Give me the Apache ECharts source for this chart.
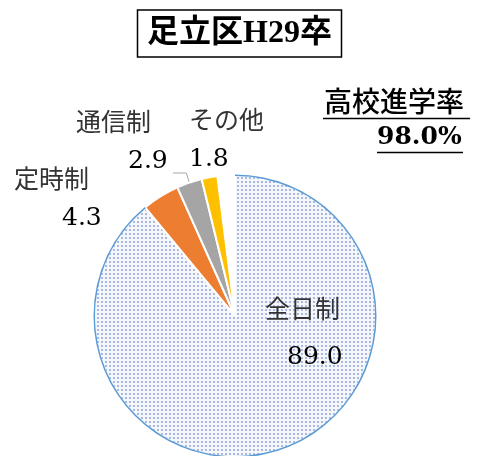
<!DOCTYPE html>
<html>
<head>
<meta charset="utf-8">
<script src="https://cdn.jsdelivr.net/npm/echarts@6/dist/echarts.min.js"></script>
<style>
  html, body { margin: 0; padding: 0; background: #fff; }
  #main { width: 479px; height: 456px; }
</style>
</head>
<body>
<div id="main"></div>
<script>
var categories = ['全日制', '定時制', '通信制', 'その他', ''];
var values = [89.0, 4.3, 2.9, 1.8, 2.0];
var sliceColors = ['pattern', '#ed7d31', '#a5a5a5', '#ffc000', 'transparent'];
var titleText = '足立区H29卒';
var rateLabel = '高校進学率';
var rateValue = '98.0%';

// label spots (name line left edge, name line centre y, value indent, value line height)
var labelSpots = [
  { x: 265, y: 308, pad: 22, vh: 58 },
  { x: 14, y: 178, pad: 48, vh: 40 },
  { x: 76, y: 121, pad: 52, vh: 40 },
  { x: 189, y: 119, pad: 0, vh: 40 }
];

var jpFont = "'Noto Sans CJK JP', sans-serif";
var numFont = "'DejaVu Serif', 'Liberation Serif', serif";

// dotted fill like the office "5%" pattern
var dots = document.createElement('canvas');
dots.width = 4;
dots.height = 4;
var dctx = dots.getContext('2d');
dctx.fillStyle = '#f5f7fc';
dctx.fillRect(0, 0, 4, 4);
dctx.fillStyle = '#a7b9dd';
dctx.fillRect(1, 1, 2, 2);

var chart = echarts.init(document.getElementById('main'));

var pieData = categories.map(function (name, i) {
  var c = sliceColors[i] === 'pattern' ? { image: dots, repeat: 'repeat' } : sliceColors[i];
  var item = {
    name: name,
    value: values[i],
    itemStyle: { color: c, borderColor: '#fff', borderWidth: i === 4 ? 0 : 2 }
  };
  if (i === 4) {
    item.label = { show: false };
    item.labelLine = { show: false };
    item.emphasis = { disabled: true };
  } else {
    item.label = {
      rich: { v: { padding: [0, 0, 0, labelSpots[i].pad], lineHeight: labelSpots[i].vh } }
    };
  }
  if (i === 2) {
    item.labelLine = { show: true };
  }
  return item;
});

// thin outline ring, only under the big slice
var ringData = categories.map(function (name, i) {
  return {
    name: name,
    value: values[i],
    itemStyle: { color: i === 0 ? '#5b9bd5' : 'transparent' }
  };
});

var option = {
  animation: false,
  title: {
    text: titleText,
    left: 'center',
    top: 10,
    padding: [8, 10, 7, 10],
    borderColor: '#000',
    borderWidth: 1.5,
    textStyle: {
      fontFamily: "'Liberation Serif', 'Noto Sans CJK JP'",
      fontSize: 32,
      fontWeight: 'bold',
      color: '#000'
    }
  },
  graphic: [
    {
      type: 'text',
      left: 324,
      top: 87,
      style: {
        text: rateLabel,
        font: "500 28px 'Noto Sans CJK JP'",
        fill: '#000'
      }
    },
    {
      type: 'line',
      shape: { x1: 323, y1: 118.5, x2: 470, y2: 118.5 },
      style: { stroke: '#000', lineWidth: 1.5 }
    },
    {
      type: 'text',
      left: 377,
      top: 125,
      style: {
        text: rateValue,
        font: "bold 25px " + numFont,
        fill: '#000'
      }
    },
    {
      type: 'line',
      shape: { x1: 377, y1: 152.5, x2: 463, y2: 152.5 },
      style: { stroke: '#000', lineWidth: 1.5 }
    }
  ],
  series: [
    {
      type: 'pie',
      center: [235, 316],
      radius: 141,
      startAngle: 90,
      clockwise: true,
      silent: true,
      data: pieData,
      label: {
        show: true,
        overflow: 'none',
        formatter: function (p) {
          return '{n|' + p.name + '}\n{v|' + p.value.toFixed(1) + '}';
        },
        rich: {
          n: { fontFamily: jpFont, fontSize: 25, color: '#333', lineHeight: 40 },
          v: { fontFamily: numFont, fontSize: 25, color: '#000', lineHeight: 40 }
        }
      },
      labelLine: {
        show: false,
        lineStyle: { color: '#a5a5a5', width: 1 }
      },
      labelLayout: function (params) {
        var s = labelSpots[params.dataIndex];
        if (!s) return {};
        var out = { x: s.x, y: s.y - 20, align: 'left', verticalAlign: 'top' };
        if (params.dataIndex === 2 && params.labelLinePoints) {
          var p0 = params.labelLinePoints[0];
          out.labelLinePoints = [[p0[0], p0[1]], [p0[0] - 3, 173], [s.x + s.pad + 45, 173]];
        }
        return out;
      }
    },
    {
      type: 'pie',
      center: [235, 316],
      radius: [140, 141.5],
      startAngle: 90,
      clockwise: true,
      silent: true,
      label: { show: false },
      labelLine: { show: false },
      data: ringData
    }
  ]
};

chart.setOption(option);
</script>
</body>
</html>
